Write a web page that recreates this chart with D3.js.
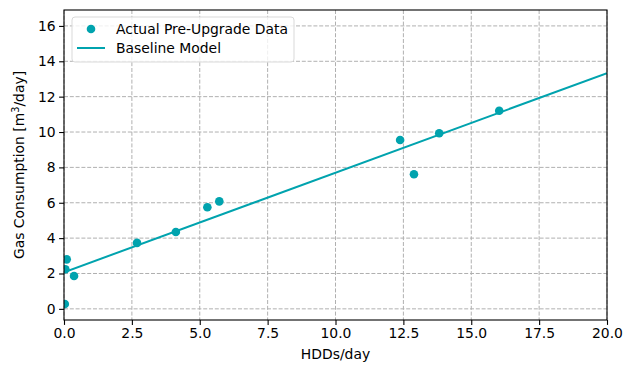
<!DOCTYPE html>
<html>
<head>
<meta charset="utf-8">
<script src="https://cdn.jsdelivr.net/npm/d3@7"></script>
<style>
  body { margin: 0; background: #fff; }
  svg { font-family: "DejaVu Sans", sans-serif; }
</style>
</head>
<body>
<div id="chart"></div>
<script>
// pre-upgrade readings (HDDs/day, m3/day)
const hdd = [0.1, 0.05, 0.37, 0.03, 2.69, 4.12, 5.28, 5.72, 12.38, 12.89, 13.82, 16.03];
const gas = [2.8, 2.24, 1.86, 0.27, 3.73, 4.35, 5.75, 6.08, 9.55, 7.61, 9.93, 11.2];

// baseline model endpoints
const modelX = [0, 20];
const modelY = [2.07, 13.33];

const xTicks = [0, 2.5, 5, 7.5, 10, 12.5, 15, 17.5, 20];
const yTicks = [0, 2, 4, 6, 8, 10, 12, 14, 16];

const COLOR = "#00a3ae";
const W = 632, H = 371;
const m = { left: 64, right: 25, top: 10, bottom: 51 };

const svg = d3.select("#chart").append("svg")
  .attr("width", W).attr("height", H);

const x = d3.scaleLinear().domain([0, 20]).range([m.left, W - m.right]);
const y = d3.scaleLinear().domain([-0.63, 16.9]).range([H - m.bottom, m.top]);

svg.append("defs").append("clipPath").attr("id", "clip")
  .append("rect")
  .attr("x", m.left).attr("y", m.top)
  .attr("width", W - m.left - m.right).attr("height", H - m.top - m.bottom);

// grid
const grid = svg.append("g").attr("stroke", "#b0b0b0").attr("stroke-width", 1)
  .attr("stroke-dasharray", "4,1.8");
grid.selectAll(".gx").data(xTicks).join("line")
  .attr("x1", d => x(d)).attr("x2", d => x(d))
  .attr("y1", m.top).attr("y2", H - m.bottom);
grid.selectAll(".gy").data(yTicks).join("line")
  .attr("y1", d => y(d)).attr("y2", d => y(d))
  .attr("x1", m.left).attr("x2", W - m.right);

const plot = svg.append("g").attr("clip-path", "url(#clip)");

plot.append("path")
  .datum(d3.zip(modelX, modelY))
  .attr("fill", "none").attr("stroke", COLOR).attr("stroke-width", 2)
  .attr("d", d3.line().x(d => x(d[0])).y(d => y(d[1])));

plot.selectAll("circle").data(d3.zip(hdd, gas)).join("circle")
  .attr("cx", d => x(d[0])).attr("cy", d => y(d[1]))
  .attr("r", 4.3).attr("fill", COLOR);

// axes
const xAxis = svg.append("g")
  .attr("transform", `translate(0,${H - m.bottom})`)
  .call(d3.axisBottom(x).tickValues(xTicks).tickFormat(d3.format(".1f")).tickSize(4.9).tickPadding(3.5));
const yAxis = svg.append("g")
  .attr("transform", `translate(${m.left},0)`)
  .call(d3.axisLeft(y).tickValues(yTicks).tickSize(4.9).tickPadding(3.5));

[xAxis, yAxis].forEach(a => {
  a.select(".domain").remove();
  a.selectAll("text").attr("font-size", 13.9).attr("fill", "#000").attr("font-family", "DejaVu Sans");
  a.selectAll("line").attr("stroke", "#000").attr("stroke-width", 1.1);
});

svg.append("rect")
  .attr("x", m.left).attr("y", m.top)
  .attr("width", W - m.left - m.right).attr("height", H - m.top - m.bottom)
  .attr("fill", "none").attr("stroke", "#000").attr("stroke-width", 1.1);

// labels
svg.append("text")
  .attr("x", (m.left + W - m.right) / 2).attr("y", H - 12)
  .attr("text-anchor", "middle").attr("font-size", 13.9)
  .text("HDDs/day");

const yl = svg.append("text")
  .attr("transform", `translate(24,${(m.top + H - m.bottom) / 2}) rotate(-90)`)
  .attr("text-anchor", "middle").attr("font-size", 13.9);
yl.append("tspan").text("Gas Consumption [m");
yl.append("tspan").attr("font-size", 9.7).attr("dy", -5).text("3");
yl.append("tspan").attr("dy", 5).text("/day]");

// legend
const lg = svg.append("g").attr("transform", "translate(72,17)");
lg.append("rect").attr("width", 222).attr("height", 45).attr("rx", 3)
  .attr("fill", "#fff").attr("fill-opacity", 0.8)
  .attr("stroke", "#d9d9d9");
lg.append("circle").attr("cx", 19).attr("cy", 12).attr("r", 4.3).attr("fill", COLOR);
lg.append("line").attr("x1", 5).attr("x2", 33).attr("y1", 31).attr("y2", 31)
  .attr("stroke", COLOR).attr("stroke-width", 2);
lg.append("text").attr("x", 44).attr("y", 17).attr("font-size", 13.9).text("Actual Pre-Upgrade Data");
lg.append("text").attr("x", 44).attr("y", 36).attr("font-size", 13.9).text("Baseline Model");
</script>
</body>
</html>
